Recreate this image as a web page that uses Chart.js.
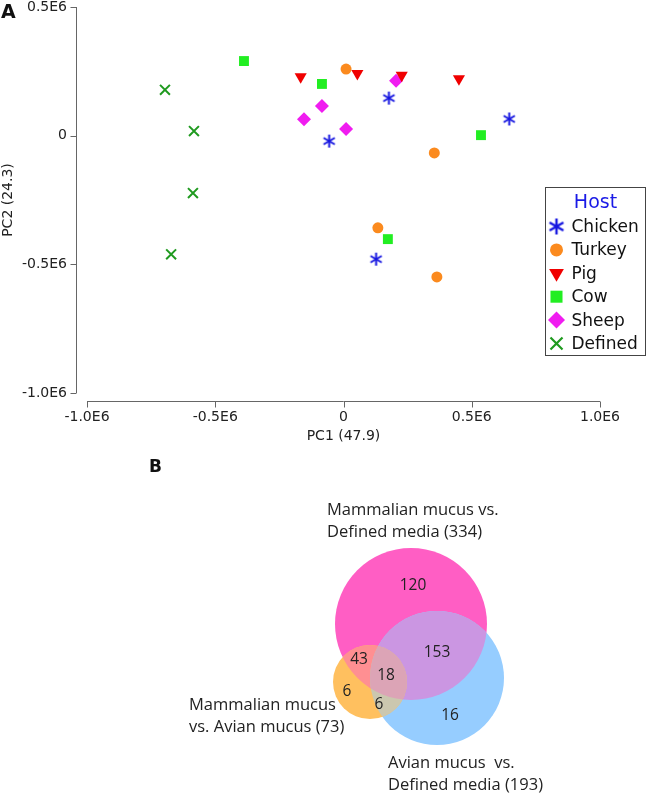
<!DOCTYPE html>
<html>
<head>
<meta charset="utf-8">
<script src="https://cdn.jsdelivr.net/npm/chart.js@4.4.1/dist/chart.umd.min.js"></script>
<style>
  body { margin: 0; background: #fff; }
  #wrap { position: relative; width: 653px; height: 794px; }
  #pca { position: absolute; left: 0; top: 0; }
  #venn { position: absolute; left: 0; top: 450px; }
</style>
</head>
<body>
<div id="wrap">
  <canvas id="pca" width="653" height="450"></canvas>
  <canvas id="venn" width="653" height="344"></canvas>
</div>
<script>
//----------------------------------------------------------------------
// Panel A data: PCA scores per host (PC1, PC2)
//----------------------------------------------------------------------
var hosts = ['Chicken', 'Turkey', 'Pig', 'Cow', 'Sheep', 'Defined'];
var hostColors = ['#1616e0', '#fb8a1e', '#f00000', '#22ee22', '#f01cf0', '#1f9a1f'];

var chickenPC1 = [-56000, 177000, 646000, 127000];
var chickenPC2 = [-21000, 146000, 65000, -480000];
var turkeyPC1 = [10000, 354000, 134000, 364000];
var turkeyPC2 = [259000, -67000, -358000, -549000];
var pigPC1 = [-167000, 54000, 227000, 450000];
var pigPC2 = [229000, 242000, 235000, 221000];
var cowPC1 = [-388000, -84000, 536000, 173000];
var cowPC2 = [290000, 201000, 2000, -402000];
var sheepPC1 = [-154000, -84000, 10000, 205000];
var sheepPC2 = [64000, 115000, 26000, 213000];
var definedPC1 = [-696000, -583000, -587000, -672000];
var definedPC2 = [178000, 18000, -223000, -461000];

var xTicks = [-1000000, -500000, 0, 500000, 1000000];
var xTickLabels = ['-1.0E6', '-0.5E6', '0', '0.5E6', '1.0E6'];
var yTicks = [-1000000, -500000, 0, 500000];
var yTickLabels = ['-1.0E6', '-0.5E6', '0', '0.5E6'];

//----------------------------------------------------------------------
// Panel B data: Venn diagram (circle centres and radii in panel units)
//----------------------------------------------------------------------
var vennSets = ['Mammalian mucus vs. Defined media (334)', 'Avian mucus vs. Defined media (193)', 'Mammalian mucus vs. Avian mucus (73)'];
var vennX = [411, 437, 370];
var vennY = [174, 228, 232];
var vennR = [76, 67, 37];
var vennColors = ['#ff5ec4', '#96cdff', '#ffc05f'];
var countText = ['120', '153', '43', '18', '6', '6', '16'];
var countX = [413, 437, 359, 386, 347, 379, 450];
var countY = [136, 203, 210, 226, 242, 255, 266];
var labelText = ['Mammalian mucus vs.', 'Defined media (334)', 'Mammalian mucus', 'vs. Avian mucus (73)', 'Avian mucus  vs.', 'Defined media (193)'];
var labelX = [327, 327, 189, 189, 388, 388];
var labelY = [60, 82, 255, 277, 313, 335];

var FONT = '"DejaVu Sans", sans-serif';
var VFONT = '"Open Sans", sans-serif';

// Six armed asterisk used for chicken.
function asterisk(size, lw, color) {
  var c = document.createElement('canvas');
  c.width = c.height = size;
  var g = c.getContext('2d');
  var m = size / 2, r = size / 2 - 1;
  g.strokeStyle = color;
  g.lineWidth = lw;
  [90, 30, 150].forEach(function(a) {
    var t = a * Math.PI / 180;
    g.beginPath();
    g.moveTo(m - r * Math.cos(t), m - r * Math.sin(t));
    g.lineTo(m + r * Math.cos(t), m + r * Math.sin(t));
    g.stroke();
  });
  return c;
}

function pts(xs, ys) {
  return xs.map(function(v, i) { return {x: v, y: ys[i]}; });
}

var styles = [
  {pointStyle: asterisk(15, 2, hostColors[0]), radius: 7, rotation: 0, borderWidth: 0},
  {pointStyle: 'circle', radius: 5.5, rotation: 0, borderWidth: 0},
  {pointStyle: 'triangle', radius: 7, rotation: 180, borderWidth: 0},
  {pointStyle: 'rect', radius: 7, rotation: 0, borderWidth: 0},
  {pointStyle: 'rectRot', radius: 7, rotation: 0, borderWidth: 0},
  {pointStyle: 'crossRot', radius: 7, rotation: 0, borderWidth: 2}
];
var legendStyles = [
  {pointStyle: asterisk(18, 2.4, hostColors[0]), radius: 8, rotation: 0, borderWidth: 0},
  {pointStyle: 'circle', radius: 6.5, rotation: 0, borderWidth: 0},
  {pointStyle: 'triangle', radius: 8.5, rotation: 180, borderWidth: 0},
  {pointStyle: 'rect', radius: 8.5, rotation: 0, borderWidth: 0},
  {pointStyle: 'rectRot', radius: 8.5, rotation: 0, borderWidth: 0},
  {pointStyle: 'crossRot', radius: 8.5, rotation: 0, borderWidth: 2.2}
];
var series = [
  pts(chickenPC1, chickenPC2), pts(turkeyPC1, turkeyPC2), pts(pigPC1, pigPC2),
  pts(cowPC1, cowPC2), pts(sheepPC1, sheepPC2), pts(definedPC1, definedPC2)
];

// Axis lines drawn off the plot area, base R style, plus legend box.
var offsetAxes = {
  id: 'offsetAxes',
  afterDraw: function(chart) {
    var ctx = chart.ctx, a = chart.chartArea, x = chart.scales.x, y = chart.scales.y;
    var ax = Math.round(a.left - 11) + 0.5;
    var ay = Math.round(a.bottom + 8) + 0.5;
    ctx.save();
    ctx.strokeStyle = '#666';
    ctx.lineWidth = 1;
    ctx.beginPath();
    ctx.moveTo(ax, y.getPixelForValue(yTicks[0]));
    ctx.lineTo(ax, y.getPixelForValue(yTicks[yTicks.length - 1]));
    yTicks.forEach(function(v) {
      var p = Math.round(y.getPixelForValue(v)) + 0.5;
      ctx.moveTo(ax - 6, p);
      ctx.lineTo(ax, p);
    });
    ctx.moveTo(x.getPixelForValue(xTicks[0]), ay);
    ctx.lineTo(x.getPixelForValue(xTicks[xTicks.length - 1]), ay);
    xTicks.forEach(function(v) {
      var p = Math.round(x.getPixelForValue(v)) + 0.5;
      ctx.moveTo(p, ay);
      ctx.lineTo(p, ay + 6);
    });
    ctx.stroke();

    // Panel letter
    ctx.fillStyle = '#111';
    ctx.font = 'bold 19px ' + FONT;
    ctx.textBaseline = 'top';
    ctx.fillText('A', 1, 4);

    // Legend box
    var bx = 545.5, by = 187.5, bw = 100, bh = 168;
    ctx.strokeStyle = '#444';
    ctx.strokeRect(bx, by, bw, bh);
    ctx.fillStyle = '#1a1ae6';
    ctx.font = '19px ' + FONT;
    ctx.textAlign = 'center';
    ctx.textBaseline = 'alphabetic';
    ctx.fillText('Host', bx + bw / 2, by + 20);
    ctx.textAlign = 'left';
    ctx.textBaseline = 'middle';
    ctx.font = '17px ' + FONT;
    hosts.forEach(function(h, i) {
      var cy = by + 39 + i * 23.4;
      ctx.fillStyle = hostColors[i];
      ctx.strokeStyle = hostColors[i];
      ctx.lineWidth = legendStyles[i].borderWidth || 1;
      Chart.helpers.drawPoint(ctx, legendStyles[i], bx + 11, cy);
      ctx.fillStyle = '#111';
      ctx.fillText(h, bx + 26, cy + 1);
    });
    ctx.restore();
  }
};

new Chart(document.getElementById('pca'), {
  type: 'scatter',
  data: {
    datasets: hosts.map(function(h, i) {
      return {
        label: h,
        data: series[i],
        pointStyle: styles[i].pointStyle,
        pointRadius: styles[i].radius,
        pointRotation: styles[i].rotation,
        pointBorderWidth: styles[i].borderWidth,
        backgroundColor: hostColors[i],
        borderColor: hostColors[i],
        clip: false
      };
    })
  },
  options: {
    responsive: false,
    animation: false,
    events: [],
    devicePixelRatio: 1,
    layout: {padding: {top: 7, right: 53, bottom: 0, left: 0}, autoPadding: false},
    plugins: {legend: {display: false}, tooltip: {enabled: false}},
    scales: {
      x: {
        min: -1000000, max: 1000000,
        grid: {display: false, drawTicks: false},
        border: {display: false},
        afterBuildTicks: function(s) { s.ticks = xTicks.map(function(v) { return {value: v}; }); },
        afterFit: function(s) { s.height = 57; s.paddingLeft = 0; s.paddingRight = 0; },
        ticks: {
          padding: 16, color: '#222', maxRotation: 0, autoSkip: false,
          font: {family: FONT, size: 14},
          callback: function(v, i) { return xTickLabels[i]; }
        },
        title: {display: true, text: 'PC1 (47.9)', color: '#222', font: {family: FONT, size: 14}, padding: {top: 0, bottom: 5}}
      },
      y: {
        min: -1000000, max: 500000,
        grid: {display: false, drawTicks: false},
        border: {display: false},
        afterBuildTicks: function(s) { s.ticks = yTicks.map(function(v) { return {value: v}; }); },
        afterFit: function(s) { s.width = 87; s.paddingTop = 0; s.paddingBottom = 0; },
        ticks: {
          padding: 20, color: '#222', autoSkip: false,
          font: {family: FONT, size: 14},
          callback: function(v, i) { return yTickLabels[i]; }
        },
        title: {display: true, text: 'PC2 (24.3)', color: '#222', font: {family: FONT, size: 14}, padding: {top: 0, bottom: 0}}
      }
    }
  },
  plugins: [offsetAxes]
});

//----------------------------------------------------------------------
// Panel B: Venn circles as bubbles, overlaps tinted by mixing colours
//----------------------------------------------------------------------
function hexRgb(h) {
  return [parseInt(h.substr(1, 2), 16), parseInt(h.substr(3, 2), 16), parseInt(h.substr(5, 2), 16)];
}
function mix(ids) {
  var s = [0, 0, 0];
  ids.forEach(function(i) { var c = hexRgb(vennColors[i]); s[0] += c[0]; s[1] += c[1]; s[2] += c[2]; });
  return 'rgb(' + s.map(function(v) { return Math.round(v / ids.length); }).join(',') + ')';
}

var vennPlugin = {
  id: 'vennOverlap',
  afterDatasetsDraw: function(chart) {
    var ctx = chart.ctx, els = chart.getDatasetMeta(0).data;
    [[0, 1], [0, 2], [1, 2], [0, 1, 2]].forEach(function(ids) {
      ctx.save();
      ids.forEach(function(i) {
        ctx.beginPath();
        ctx.arc(els[i].x, els[i].y, els[i].options.radius, 0, Math.PI * 2);
        ctx.clip();
      });
      ctx.fillStyle = mix(ids);
      ctx.fillRect(0, 0, chart.width, chart.height);
      ctx.restore();
    });
  },
  afterDraw: function(chart) {
    var ctx = chart.ctx, x = chart.scales.x, y = chart.scales.y;
    ctx.save();
    ctx.fillStyle = '#111';
    ctx.font = 'bold 17px ' + FONT;
    ctx.textBaseline = 'middle';
    ctx.fillText('B', 149, 18);
    ctx.fillStyle = '#222';
    ctx.textAlign = 'center';
    ctx.font = '15.5px ' + VFONT;
    countText.forEach(function(t, i) {
      ctx.fillText(t, x.getPixelForValue(countX[i]), y.getPixelForValue(countY[i]));
    });
    ctx.textAlign = 'left';
    ctx.font = '16.5px ' + VFONT;
    labelText.forEach(function(t, i) {
      ctx.fillText(t, x.getPixelForValue(labelX[i]), y.getPixelForValue(labelY[i]));
    });
    ctx.restore();
  }
};

new Chart(document.getElementById('venn'), {
  type: 'bubble',
  data: {
    labels: vennSets,
    datasets: [{
      data: vennX.map(function(v, i) { return {x: v, y: vennY[i], r: vennR[i]}; }),
      backgroundColor: vennColors,
      borderWidth: 0,
      clip: false
    }]
  },
  options: {
    responsive: false,
    animation: false,
    events: [],
    devicePixelRatio: 1,
    layout: {padding: 0, autoPadding: false},
    plugins: {legend: {display: false}, tooltip: {enabled: false}},
    scales: {
      x: {type: 'linear', min: 0, max: 653, display: false},
      y: {type: 'linear', min: 0, max: 344, reverse: true, display: false}
    }
  },
  plugins: [vennPlugin]
});
</script>
</body>
</html>
